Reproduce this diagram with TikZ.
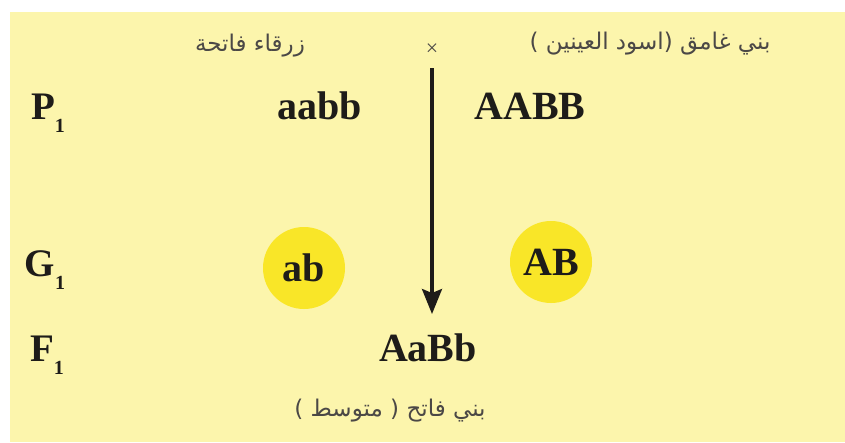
\documentclass[tikz,border=0pt]{standalone}
\usepackage{fontspec}
\setmainfont{Liberation Serif}
\newfontfamily\arabicfont[Script=Arabic]{DejaVu Sans}
\TeXXeTstate=1
\usetikzlibrary{arrows.meta}
\definecolor{bg}{RGB}{252,245,172}
\definecolor{gam}{RGB}{249,230,40}
\definecolor{ink}{RGB}{30,28,25}
\definecolor{argray}{RGB}{75,72,70}
\begin{document}
\begin{tikzpicture}[x=1pt,y=-1pt,
  gen/.style={font=\fontsize{40}{44}\selectfont\bfseries, text=ink, inner sep=2pt},
  gen label/.style={font=\fontsize{39}{42}\selectfont\bfseries, text=ink, inner sep=0pt},
  artext/.style={font=\arabicfont\fontsize{23}{26}\selectfont, text=argray, inner sep=1pt},
  gamete/.style={circle, fill=gam, minimum size=82pt, inner sep=0pt, font=\fontsize{40}{44}\selectfont\bfseries, text=ink}]
\useasboundingbox (0,0) rectangle (845,442);
\fill[white] (0,0) rectangle (845,442);
\fill[bg] (10,12) rectangle (845,442);
% generation labels
\newcommand{\sbone}{\raisebox{-0.32em}{\fontsize{20}{20}\selectfont 1}}
\node[gen label] (P) at (48,113) {P\sbone};
\node[gen label] (G) at (45,270) {G\sbone};
\node[gen label] (F) at (47,355) {F\sbone};
% parents
\node[artext] (mom) at (250,46) {\beginR زرقاء فاتحة\endR};
\node[artext] (dad) at (650,44) {\beginR بني غامق (اسود العينين )\endR};
\node[font=\fontsize{22}{22}\selectfont, text=argray, inner sep=1pt] (cross) at (432,50) {×};
\node[gen] (aabb) at (320,106) {aabb};
\node[gen] (AABB) at (530,106) {AABB};
% gametes
\node[gamete] (ab) at (304,268) {ab};
\node[gamete] (AB) at (551,262) {AB};
% offspring
\node[gen] (AaBb) at (428,348) {AaBb};
\node[artext] (child) at (390,411) {\beginR بني فاتح ( متوسط )\endR};
% arrow
\coordinate (tip) at (cross.south |- 0,314);
\draw[line width=3.2pt, ink, -{Stealth[length=25pt,width=20pt,inset=4pt]}, shorten <=11pt] (cross.south) -- (tip);
\end{tikzpicture}
\end{document}
